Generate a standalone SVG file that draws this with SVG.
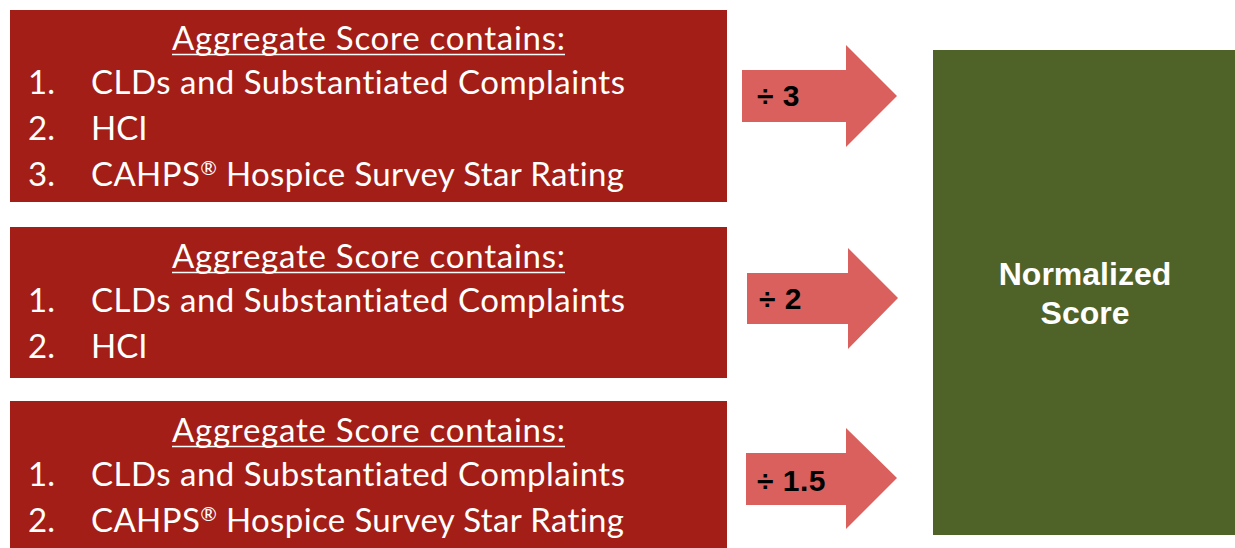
<svg xmlns="http://www.w3.org/2000/svg" width="1235" height="548" viewBox="0 0 1235 548">
<style>
.box{fill:#A21E16}
.arrow{fill:#D9605C}
.green{fill:#4F6228}
.t{font-family:Lato,"Open Sans","Liberation Sans",sans-serif;font-size:33px;fill:#FFFFFF;font-variant-ligatures:none}
.ul{stroke:#FFFFFF;stroke-width:1.5}
.lab{font-family:"Liberation Sans",Arial,sans-serif;font-weight:bold;font-size:30px;fill:#000000;letter-spacing:0.5px}
.ns{font-family:"Liberation Sans",Arial,sans-serif;font-weight:bold;font-size:32px;fill:#FFFFFF;text-anchor:middle}
.reg{font-size:20px}
</style>
<rect width="1235" height="548" fill="#FFFFFF"/>
<g id="box1">
<rect class="box" x="10" y="10" width="717" height="192"/>
<text class="t" x="172" y="50" textLength="393">Aggregate Score contains:</text>
<line class="ul" x1="172" y1="54.5" x2="565" y2="54.5"/>
<text class="t" x="28" y="94">1.</text>
<text class="t" x="91" y="94" textLength="534">CLDs and Substantiated Complaints</text>
<text class="t" x="28" y="140">2.</text>
<text class="t" x="91" y="140">HCI</text>
<text class="t" x="28" y="186">3.</text>
<text class="t" x="91" y="186" textLength="533">CAHPS<tspan class="reg" dy="-11">®</tspan><tspan dy="11"> Hospice Survey Star Rating</tspan></text>
</g>
<g id="box2">
<rect class="box" x="10" y="227" width="717" height="151"/>
<text class="t" x="172" y="268" textLength="393">Aggregate Score contains:</text>
<line class="ul" x1="172" y1="272.5" x2="565" y2="272.5"/>
<text class="t" x="28" y="312">1.</text>
<text class="t" x="91" y="312" textLength="534">CLDs and Substantiated Complaints</text>
<text class="t" x="28" y="358">2.</text>
<text class="t" x="91" y="358">HCI</text>
</g>
<g id="box3">
<rect class="box" x="10" y="401" width="717" height="150"/>
<text class="t" x="172" y="442" textLength="393">Aggregate Score contains:</text>
<line class="ul" x1="172" y1="446.5" x2="565" y2="446.5"/>
<text class="t" x="28" y="486">1.</text>
<text class="t" x="91" y="486" textLength="534">CLDs and Substantiated Complaints</text>
<text class="t" x="28" y="532">2.</text>
<text class="t" x="91" y="532" textLength="533">CAHPS<tspan class="reg" dy="-11">®</tspan><tspan dy="11"> Hospice Survey Star Rating</tspan></text>
</g>
<g id="normalized">
<rect class="green" x="933" y="50" width="302" height="485"/>
<text class="ns" x="1085" y="285">Normalized</text>
<text class="ns" x="1085" y="324">Score</text>
</g>
<g id="connectors">
<g id="arrow1">
<polygon class="arrow" points="742,70 846,70 846,45 897,96 846,147 846,122 742,122"/>
<text class="lab" x="757" y="106">÷ 3</text>
</g>
<g id="arrow2">
<polygon class="arrow" points="747,273 848,273 848,248 898,298 848,349 848,324 747,324"/>
<text class="lab" x="759" y="309">÷ 2</text>
</g>
<g id="arrow3">
<polygon class="arrow" points="746,453 846,453 846,428 897,478 846,529 846,505 746,505"/>
<text class="lab" x="757" y="491">÷ 1.5</text>
</g>
</g>
</svg>
